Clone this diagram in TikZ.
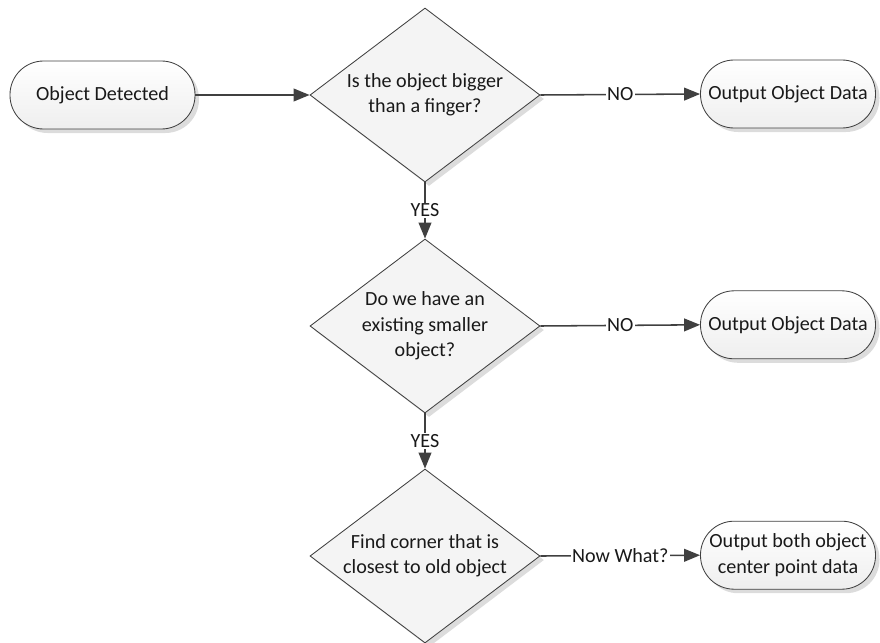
\documentclass[tikz,border=0pt]{standalone}
\usepackage{fontspec}
\setmainfont{Carlito}
\usetikzlibrary{shapes.geometric,arrows.meta,shadows}

\definecolor{edgegray}{HTML}{404040}
\definecolor{shadegray}{HTML}{DCDCDC}

\tikzset{
    boxfont/.style={font=\fontsize{14.3}{18}\selectfont, text=black!90},
    terminal/.style={draw=edgegray, line width=0.6pt, rectangle, rounded corners=0.84cm,
        minimum height=1.7cm, top color=white, bottom color=gray!13, align=center, boxfont,
        drop shadow={shadow xshift=0.1cm, shadow yshift=-0.1cm, fill=shadegray, opacity=1}},
    decision/.style={draw=edgegray, line width=0.6pt, diamond, shape aspect=1.32, inner sep=-0.15cm,
        minimum width=5.75cm, minimum height=4.35cm, fill=gray!9, align=center, boxfont,
        drop shadow={shadow xshift=0.1cm, shadow yshift=-0.1cm, fill=shadegray, opacity=1}},
    flow/.style={draw=edgegray, line width=1.1pt, -{Triangle[length=0.4cm,width=0.32cm]}},
    answer/.style={fill=white, inner sep=1pt, boxfont}
}

\begin{document}
\begin{tikzpicture}
        \useasboundingbox (0,0) rectangle (22,-16.05);
        % start
        \node[terminal, minimum width=4.625cm] (detected) at (2.5625,-2.375) {Object Detected};

        % questions
        \node[decision] (bigger) at (10.625,-2.375) {Is the object bigger\\than a finger?};
        \node[decision] (smaller) at (10.625,-8.15) {Do we have an\\existing smaller\\object?};
        \node[decision] (corner) at (10.625,-13.9) {Find corner that is\\closest to old object};

        % outputs
        \node[terminal, minimum width=4.375cm] (outone) at (19.7,-2.35) {Output Object Data};
        \node[terminal, minimum width=4.375cm] (outtwo) at (19.7,-8.12) {Output Object Data};
        \node[terminal, minimum width=4.375cm] (outboth) at (19.7,-13.88) {Output both object\\center point data};

        % arrows
        \draw[flow] (detected) -- (bigger.west);
        \draw[flow] (bigger.east) -- node[answer]{NO} (outone.west);
        \draw[flow] (bigger.south) -- node[answer]{YES} (smaller.north);
        \draw[flow] (smaller.east) -- node[answer]{NO} (outtwo.west);
        \draw[flow] (smaller.south) -- node[answer]{YES} (corner.north);
        \draw[flow] (corner.east) -- node[answer]{Now What?} (outboth.west);
    \end{tikzpicture}
\end{document}
